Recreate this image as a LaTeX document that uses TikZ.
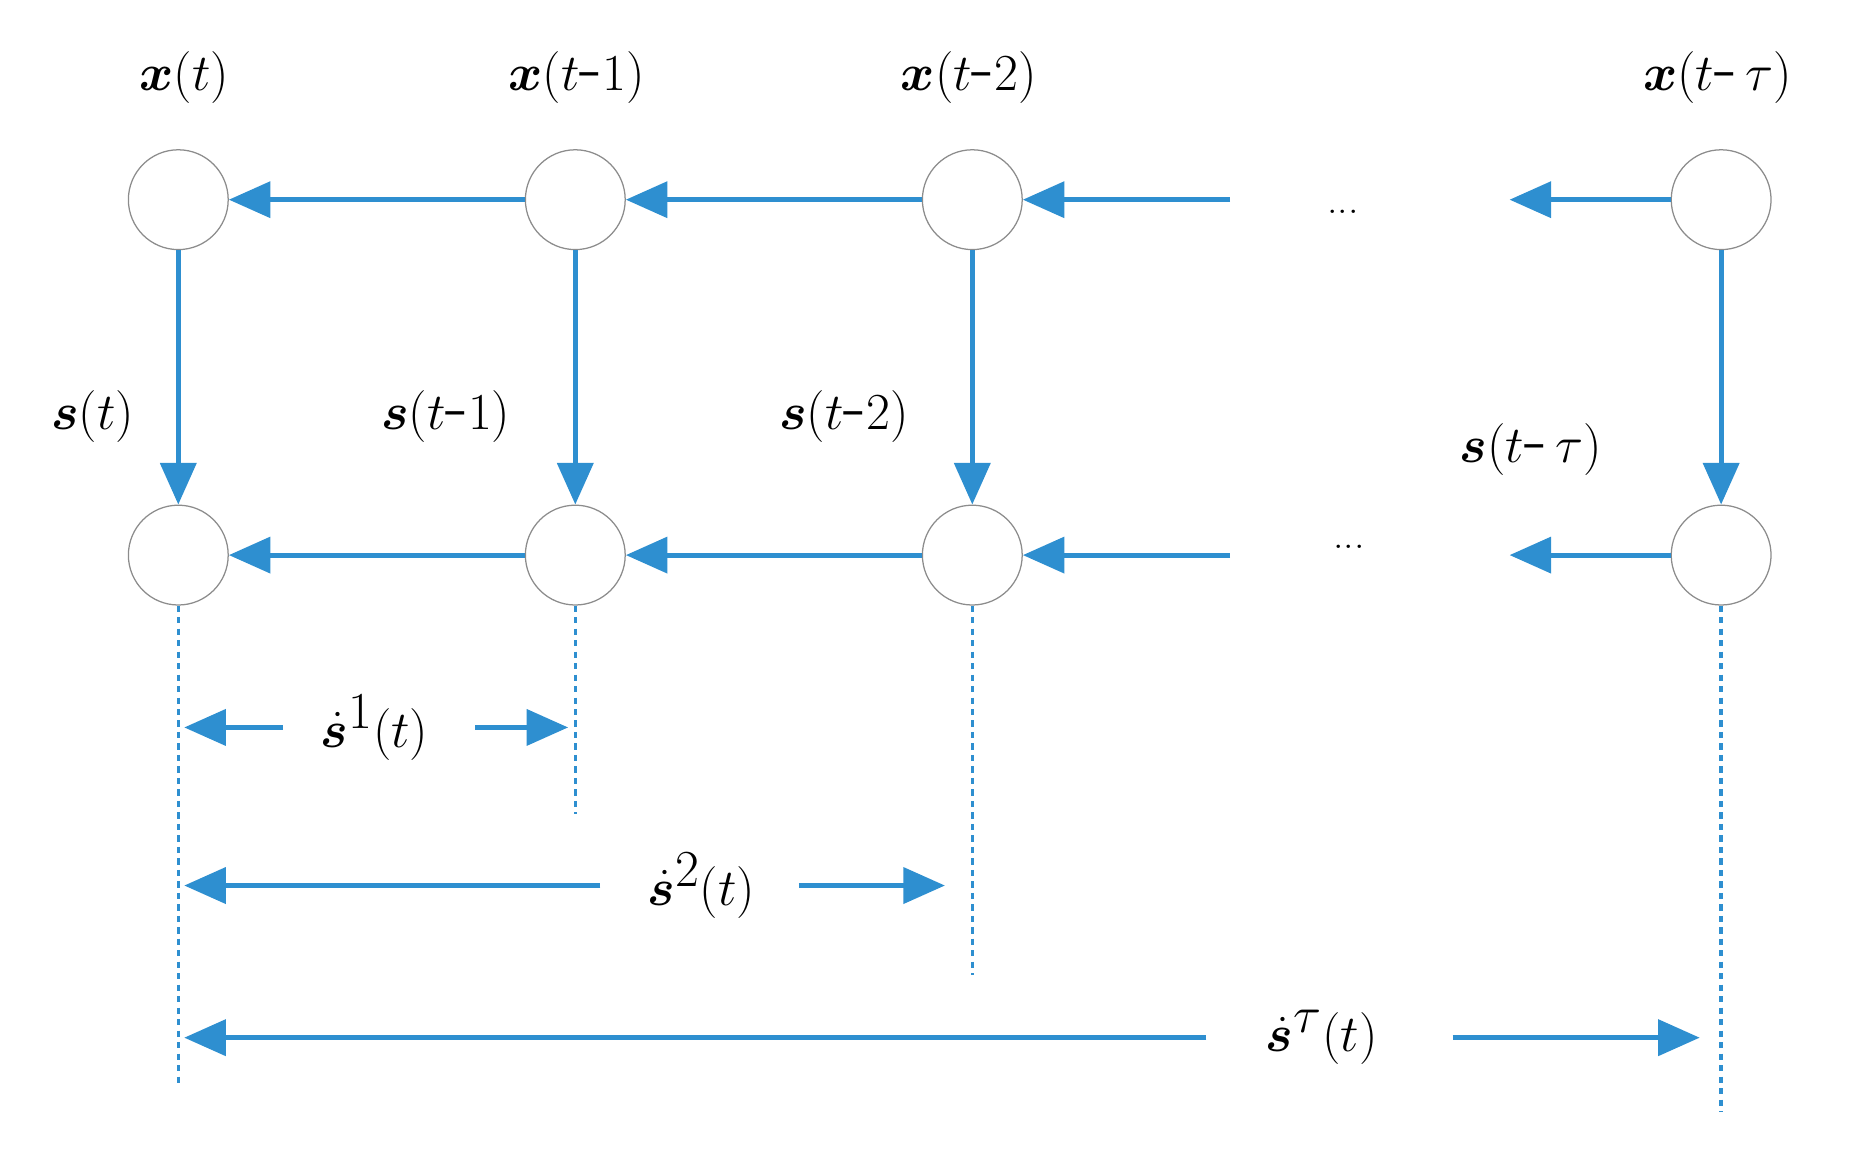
\documentclass[tikz,border=0pt]{standalone}
\usepackage{amsmath,bm}
\usetikzlibrary{arrows.meta}
\definecolor{lb}{RGB}{46,143,208}
\begin{document}
\begin{tikzpicture}[x=0.02cm,y=-0.02cm,
  nd/.style={circle,draw=black!45,line width=0.6pt,minimum size=1.68cm,inner sep=0pt,fill=white},
  ar/.style={draw=lb,line width=2.4pt,-{Triangle[length=0.7cm,width=0.6cm]}},
  dl/.style={draw=lb,line width=1.6pt,dash pattern=on 3pt off 2.5pt},
  lab/.style={font=\fontsize{36}{42}\selectfont,inner sep=0pt},
  dots/.style={font=\fontsize{20}{24}\selectfont}]
\useasboundingbox (0,0) rectangle (1564,970);
\foreach \n/\x in {a/150,b/484,c/818,d/1448}{
  \node[nd] (t\n) at (\x,168) {};
  \node[nd] (b\n) at (\x,467) {};
}
\coordinate (tr) at (1035,168); \coordinate (tl) at (1270,168);
\coordinate (br) at (1035,467); \coordinate (bl) at (1270,467);
\node[dots] (dt) at (1130,178) {...};
\node[dots] (dbm) at (1135,460) {...};
% horizontal arrows
\draw[ar] (tb) -- (ta); \draw[ar] (tc) -- (tb); \draw[ar] (tr) -- (tc); \draw[ar] (td) -- (tl);
\draw[ar] (bb) -- (ba); \draw[ar] (bc) -- (bb); \draw[ar] (br) -- (bc); \draw[ar] (bd) -- (bl);
% vertical arrows
\foreach \n in {a,b,c,d}{ \draw[ar] (t\n) -- (b\n); }
% dashed lines
\coordinate (ea) at (150,915); \coordinate (eb) at (484,685);
\coordinate (ec) at (818,820); \coordinate (ed) at (1448,935);
\foreach \n in {a,b,c,d}{ \draw[dl] (b\n) -- (e\n); }
% labels
\node[lab] (lxa) at (155,65) {$\bm{x}(t)$};
\node[lab] (lxb) at (485,65) {$\bm{x}(t\text{-}1)$};
\node[lab] (lxc) at (815,65) {$\bm{x}(t\text{-}2)$};
\node[lab] (lxd) at (1445,65) {$\bm{x}(t\text{-}\,\tau)$};
\node[lab] (lsa) at (78,350) {$\bm{s}(t)$};
\node[lab] (lsb) at (375,350) {$\bm{s}(t\text{-}1)$};
\node[lab] (lsc) at (710,350) {$\bm{s}(t\text{-}2)$};
\node[lab] (lsd) at (1288,378) {$\bm{s}(t\text{-}\,\tau)$};
% dimension arrows
\coordinate (d1l) at (155,612); \coordinate (d1r) at (478,612);
\coordinate (d2l) at (155,745); \coordinate (d2r) at (795,745);
\coordinate (d3l) at (155,873); \coordinate (d3r) at (1430,873);
\coordinate (s1l) at (238,612); \coordinate (s1r) at (400,612);
\coordinate (s2l) at (505,745); \coordinate (s2r) at (672,745);
\coordinate (s3l) at (1015,873); \coordinate (s3r) at (1222,873);
\node[lab] (m1) at (315,612) {$\dot{\bm{s}}^{1}(t)$};
\node[lab] (m2) at (590,745) {$\dot{\bm{s}}^{2}(t)$};
\node[lab] (m3) at (1112,873) {$\dot{\bm{s}}^{\tau}(t)$};
\draw[ar] (s1l) -- (d1l); \draw[ar] (s1r) -- (d1r);
\draw[ar] (s2l) -- (d2l); \draw[ar] (s2r) -- (d2r);
\draw[ar] (s3l) -- (d3l); \draw[ar] (s3r) -- (d3r);
\end{tikzpicture}
\end{document}
